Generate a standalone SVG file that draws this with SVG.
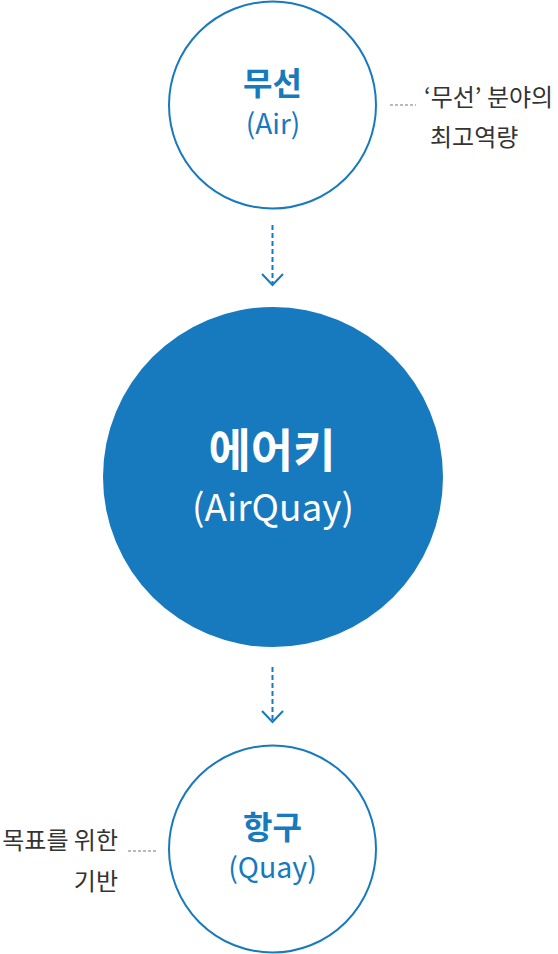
<svg xmlns="http://www.w3.org/2000/svg" width="558" height="954" viewBox="0 0 558 954">
<style>
.ring{fill:#fff;stroke:#1779be;stroke-width:2}
.big{fill:#1779be}
.t{font-family:"Noto Sans CJK KR","Noto Sans",sans-serif;text-anchor:middle}
.blue{fill:#1779be}
.white{fill:#fff}
.side{font-family:"Noto Sans CJK KR","Noto Sans",sans-serif;font-size:24px;fill:#333}
.arrow{fill:none;stroke:#1779be;stroke-width:2}
.lead{fill:none;stroke:#777;stroke-width:1;stroke-dasharray:3,2}
</style>
<g id="node-air">
<circle class="ring" cx="272.5" cy="105" r="103.5"/>
<text class="t blue" x="272.5" y="95" font-size="32" font-weight="bold">무선</text>
<text class="t blue" x="273" y="134" font-size="28">(Air)</text>
</g>
<g id="node-airquay">
<circle class="big" cx="273" cy="477" r="170"/>
<text class="t white" x="272" y="467" font-size="46" font-weight="bold">에어키</text>
<text class="t white" x="273" y="521" font-size="37">(AirQuay)</text>
</g>
<g id="node-quay">
<circle class="ring" cx="272.5" cy="849" r="103.5"/>
<text class="t blue" x="272.5" y="839" font-size="32" font-weight="bold">항구</text>
<text class="t blue" x="272.5" y="878" font-size="28.5">(Quay)</text>
</g>
<g id="note-air">
<text class="side" x="424" y="106">‘무선’ 분야의</text>
<text class="side" x="430" y="146">최고역량</text>
</g>
<g id="note-quay">
<text class="side" x="118" y="849" text-anchor="end">목표를 위한</text>
<text class="side" x="118" y="890" text-anchor="end">기반</text>
</g>
<g id="connectors">
<line class="arrow" x1="272.5" y1="225" x2="272.5" y2="284" stroke-dasharray="5,3"/>
<polyline class="arrow" points="262,274 272.5,285 283,274"/>
<line class="arrow" x1="272.5" y1="667" x2="272.5" y2="720" stroke-dasharray="5,3"/>
<polyline class="arrow" points="262,711 272.5,722 283,711"/>
<line class="lead" x1="390" y1="105" x2="416" y2="105"/>
<line class="lead" x1="128" y1="851" x2="157" y2="851"/>
</g>
</svg>
